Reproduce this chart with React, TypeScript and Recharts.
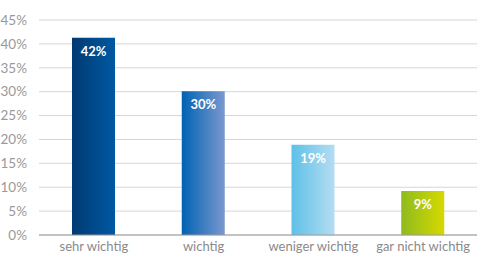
import React from "react";
import { BarChart, Bar, XAxis, YAxis, CartesianGrid, Cell, LabelList } from "recharts";

const categories = ["sehr wichtig", "wichtig", "weniger wichtig", "gar nicht wichtig"];
const values = [41.3, 30.1, 18.9, 9.2];
const valueLabels = ["42%", "30%", "19%", "9%"];
const yTicks = [0, 5, 10, 15, 20, 25, 30, 35, 40, 45];
const gradients = [
  ["#003a72", "#0059a3"],
  ["#0062b2", "#7a98cf"],
  ["#5ec0e8", "#b4ddf1"],
  ["#8fbb1e", "#d6d900"],
];

const data = categories.map((name, i) => ({ name, value: values[i], label: valueLabels[i] }));

const FONT = "Lato, 'Open Sans', sans-serif";

export default function App() {
  return (
    <div style={{ position: "absolute", left: 0, top: 0, width: 477, height: 255, background: "#fff" }}>
      <BarChart width={478} height={255} data={data} margin={{ top: 20, right: 0, bottom: 0, left: 0 }} barCategoryGap={0}>
        <defs>
          {gradients.map((g, i) => (
            <linearGradient key={i} id={`g${i}`} x1="0" y1="0" x2="1" y2="0">
              <stop offset="0%" stopColor={g[0]} />
              <stop offset="100%" stopColor={g[1]} />
            </linearGradient>
          ))}
        </defs>
        <CartesianGrid vertical={false} stroke="#d6d6d6" strokeWidth={1} />
        <XAxis
          dataKey="name"
          axisLine={{ stroke: "#9a9a9a" }}
          tickLine={false}
          height={20}
          tickMargin={1}
          interval={0}
          tick={{ fill: "#8a8a8a", fontSize: 13, fontFamily: FONT }}
        />
        <YAxis
          domain={[0, 45]}
          ticks={yTicks}
          width={39}
          axisLine={false}
          tickLine={false}
          tickMargin={6}
          tickFormatter={(v) => `${v}%`}
          tick={{ fill: "#999999", fontSize: 13.5, fontFamily: FONT }}
        />
        <Bar dataKey="value" barSize={43} isAnimationActive={false}>
          {data.map((d, i) => (
            <Cell key={i} fill={`url(#g${i})`} />
          ))}
          <LabelList
            dataKey="label"
            position="insideTop"
            offset={9}
            fill="#ffffff"
            style={{ fontSize: 13, fontWeight: "bold", fontFamily: FONT }}
          />
        </Bar>
      </BarChart>
    </div>
  );
}
